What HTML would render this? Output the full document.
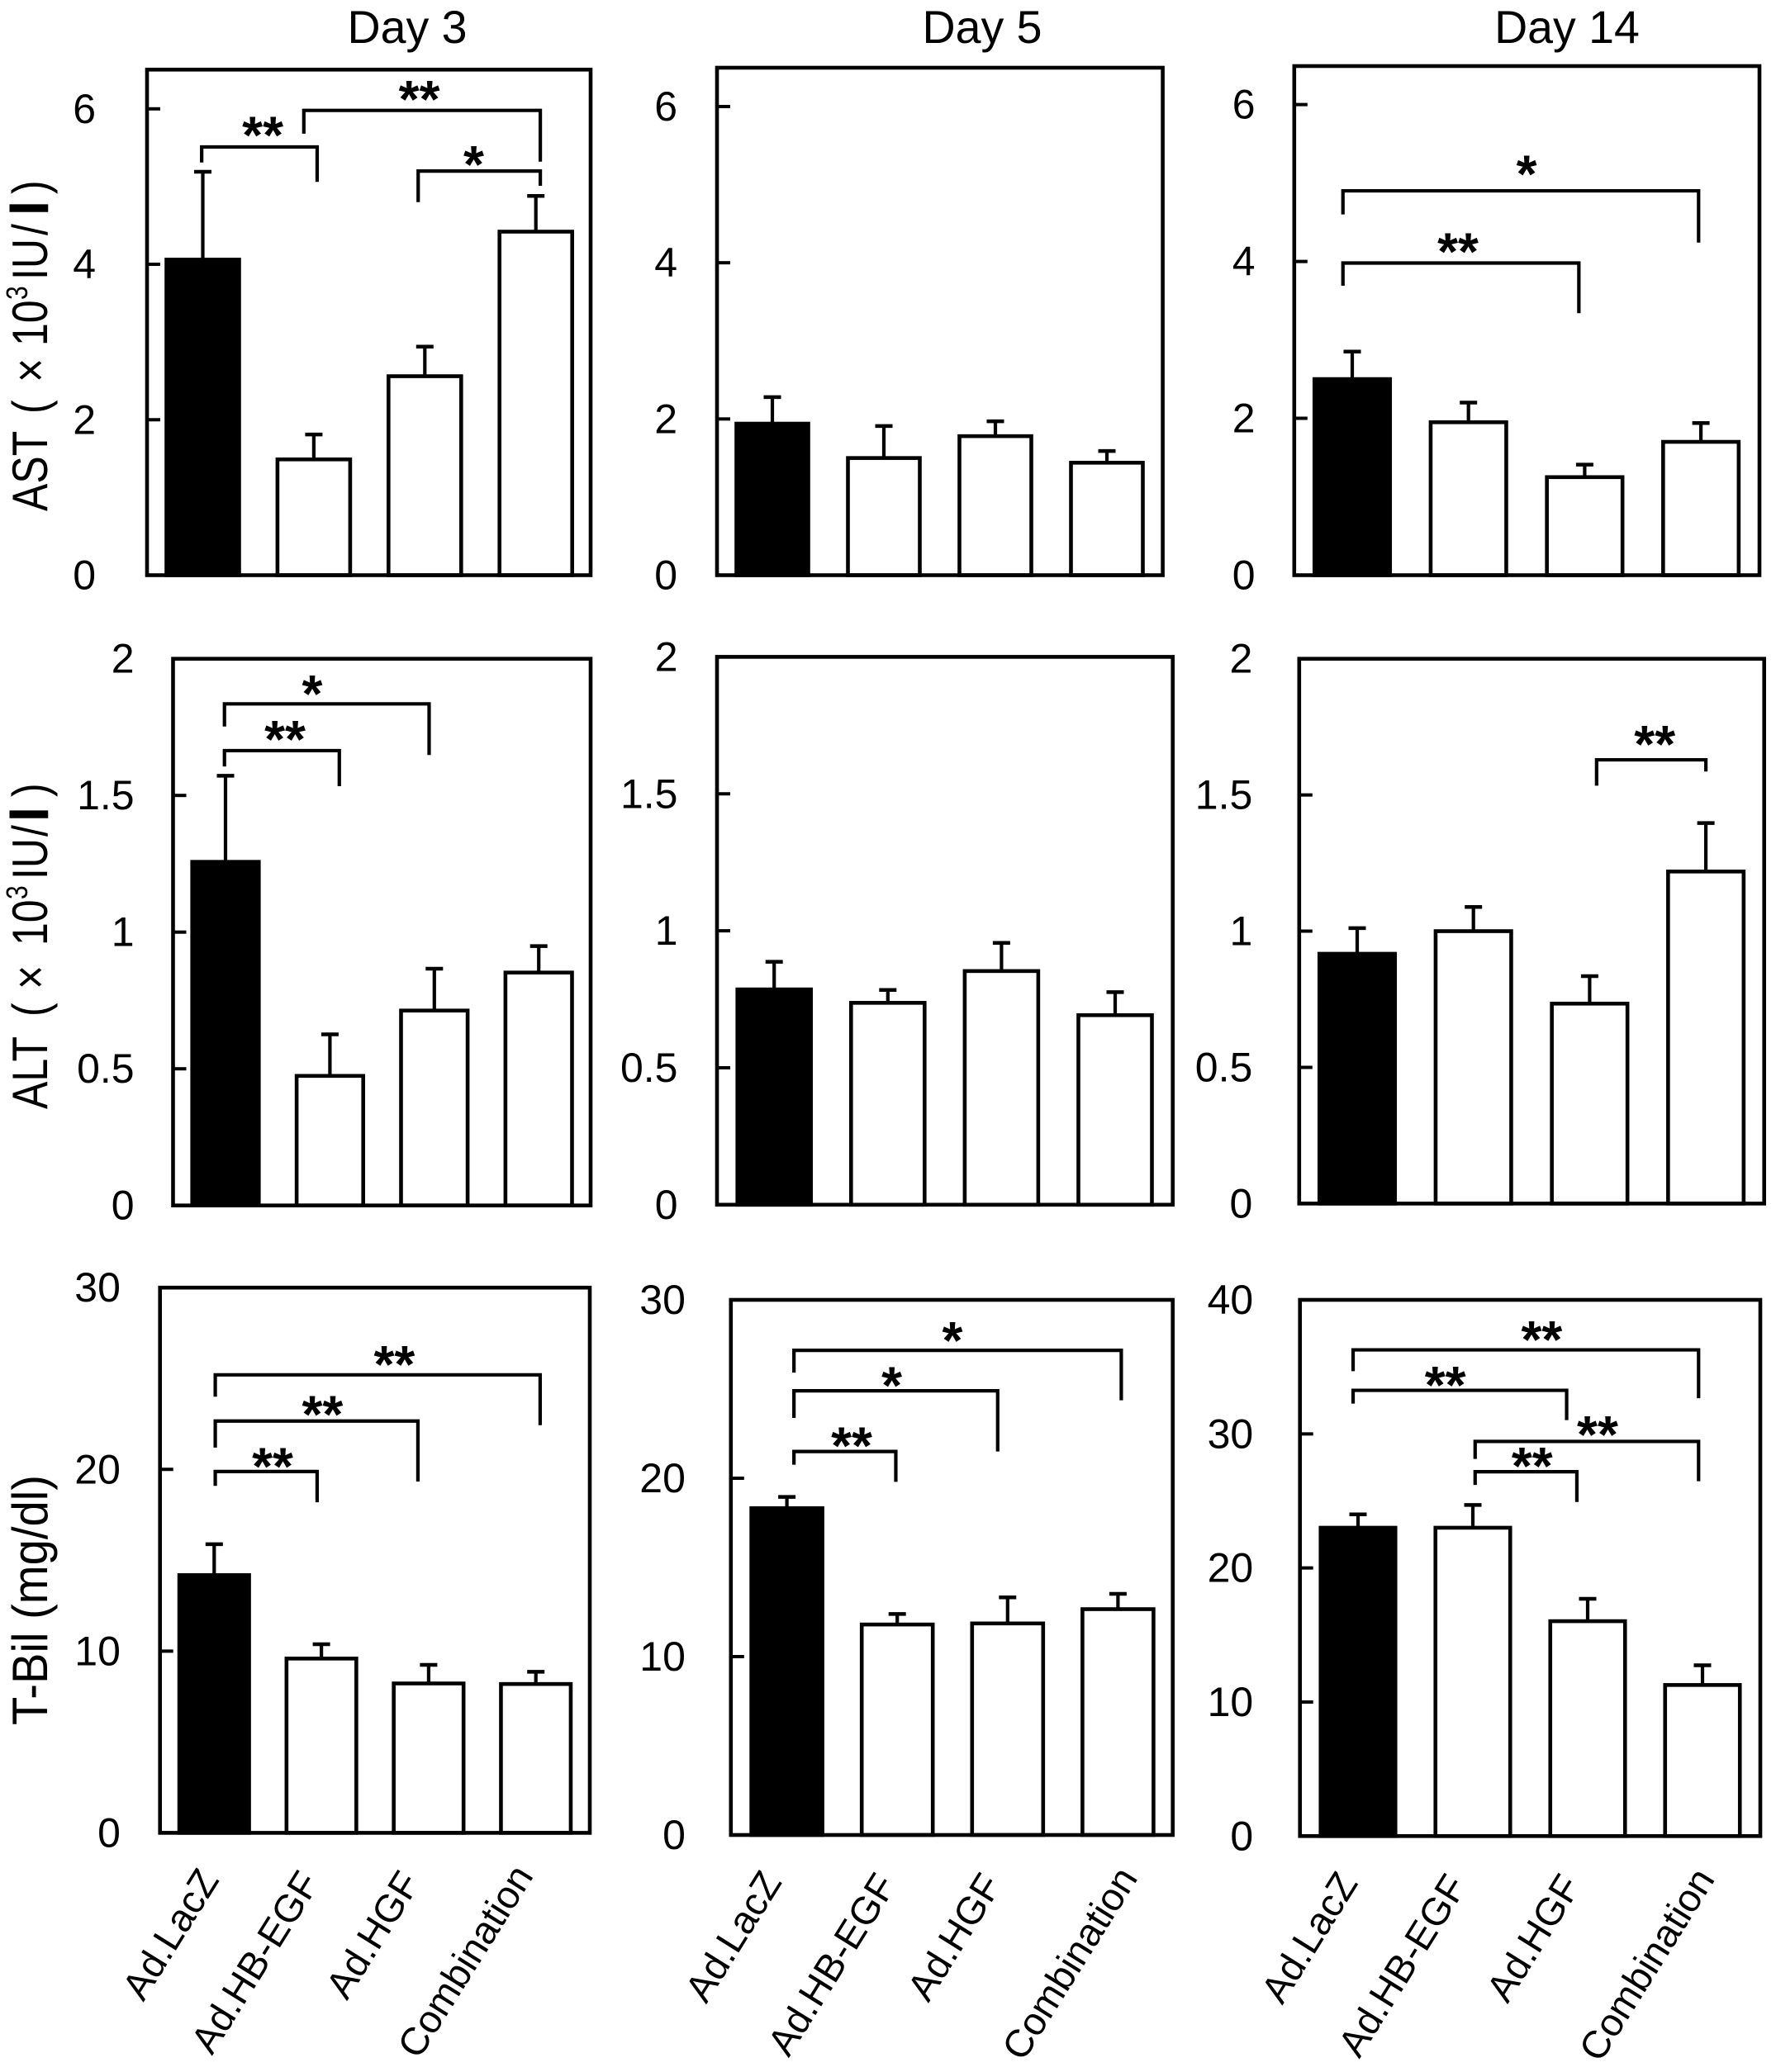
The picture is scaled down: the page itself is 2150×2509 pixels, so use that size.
<!DOCTYPE html>
<html lang="en">
<head>
<meta charset="utf-8">
<title>Liver function by treatment group</title>
<style>
  html, body { margin: 0; padding: 0; background: #fff; }
  #chart { display: block; width: 2150px; height: 2509px; }
  text { font-family: "Liberation Sans", Arial, sans-serif; fill: #000; }
</style>
</head>
<body>
<svg id="chart" xmlns="http://www.w3.org/2000/svg" width="2150" height="2509" viewBox="0 0 2150 2509">
  <rect x="0" y="0" width="2150" height="2509" fill="#fff"/>
  <text x="493" y="52" font-size="55.5" text-anchor="middle">Day 3</text>
  <text x="1189" y="52" font-size="55.5" text-anchor="middle">Day 5</text>
  <text x="1897" y="52" font-size="55.5" text-anchor="middle">Day 14</text>
  <text transform="translate(57,619) rotate(-90) scale(1,1.2)" font-size="50"><tspan x="0">AST</tspan><tspan x="118">(</tspan><tspan x="156">×</tspan><tspan x="200">10</tspan><tspan x="256" font-size="30" dy="-20">3</tspan><tspan x="280" dy="20">IU</tspan><tspan x="334">/</tspan><tspan x="360" font-weight="bold" stroke="#000" stroke-width="2.5">l</tspan><tspan x="384">)</tspan></text>
  <text transform="translate(57,1343) rotate(-90) scale(1,1.2)" font-size="50"><tspan x="0">ALT</tspan><tspan x="112">(</tspan><tspan x="145">×</tspan><tspan x="198">10</tspan><tspan x="254" font-size="30" dy="-20">3</tspan><tspan x="278" dy="20">IU</tspan><tspan x="330">/</tspan><tspan x="350" font-weight="bold" stroke="#000" stroke-width="2.5">l</tspan><tspan x="378">)</tspan></text>
  <text transform="translate(57,2089) rotate(-90) scale(1,1.2)" font-size="50" textLength="303" lengthAdjust="spacingAndGlyphs">T-Bil (mg/dl)</text>
</svg>
<script>
// ---- shared categories and tick labels ----
const categories = ['Ad.LacZ', 'Ad.HB-EGF', 'Ad.HGF', 'Combination'];
const astTicks = [0, 2, 4, 6];
const altTicks = [0, 0.5, 1, 1.5, 2];
const bilTicks30 = [0, 10, 20, 30];
const bilTicks40 = [0, 10, 20, 30, 40];

// ---- series values: bar means and upper error-bar values ----
const astDay3Means = [4.06, 1.49, 2.56, 4.42];
const astDay3Upper = [5.19, 1.81, 2.94, 4.88];
const astDay5Means = [1.94, 1.50, 1.78, 1.44];
const astDay5Upper = [2.28, 1.91, 1.97, 1.59];
const astDay14Means = [2.50, 1.95, 1.25, 1.70];
const astDay14Upper = [2.85, 2.20, 1.41, 1.94];

const altDay3Means = [1.257, 0.474, 0.713, 0.852];
const altDay3Upper = [1.572, 0.626, 0.866, 0.949];
const altDay5Means = [0.786, 0.737, 0.853, 0.692];
const altDay5Upper = [0.887, 0.784, 0.956, 0.776];
const altDay14Means = [0.917, 1.0, 0.734, 1.219];
const altDay14Upper = [1.011, 1.089, 0.835, 1.397];

const bilDay3Means = [14.18, 9.59, 8.22, 8.19];
const bilDay3Upper = [15.88, 10.38, 9.24, 8.86];
const bilDay5Means = [18.32, 11.8, 11.86, 12.66];
const bilDay5Upper = [18.95, 12.39, 13.32, 13.52];
const bilDay14Means = [23.0, 23.0, 16.03, 11.27];
const bilDay14Upper = [24.0, 24.7, 17.7, 12.74];

// ---- significance brackets (category units / value units) ----
const astDay3Brackets = [
  { from: -0.01, to: 1.03, level: 5.51, fromEnd: 5.31, toEnd: 5.06, mark: '**', markAt: 0.54, markLevel: 5.74 },
  { from: 0.91, to: 3.04, level: 5.98, fromEnd: 5.68, toEnd: 5.32, mark: '**', markAt: 1.95, markLevel: 6.20 },
  { from: 1.94, to: 3.04, level: 5.20, fromEnd: 4.80, toEnd: 5.01, mark: '*', markAt: 2.44, markLevel: 5.36 }
];
const astDay14Brackets = [
  { from: -0.08, to: 2.98, level: 4.90, fromEnd: 4.60, toEnd: 4.24, mark: '*', markAt: 1.50, markLevel: 5.19 },
  { from: -0.08, to: 1.95, level: 3.98, fromEnd: 3.69, toEnd: 3.34, mark: '**', markAt: 0.91, markLevel: 4.20 }
];
const altDay3Brackets = [
  { from: -0.01, to: 1.95, level: 1.835, fromEnd: 1.752, toEnd: 1.648, mark: '*', markAt: 0.83, markLevel: 1.893 },
  { from: -0.01, to: 1.09, level: 1.664, fromEnd: 1.606, toEnd: 1.534, mark: '**', markAt: 0.57, markLevel: 1.727 }
];
const altDay14Brackets = [
  { from: 2.06, to: 3.0, level: 1.629, fromEnd: 1.534, toEnd: 1.586, mark: '**', markAt: 2.56, markLevel: 1.708 }
];
const bilDay3Brackets = [
  { from: 0.01, to: 3.04, level: 25.2, fromEnd: 24.0, toEnd: 22.43, mark: '**', markAt: 1.68, markLevel: 26.1 },
  { from: 0.01, to: 1.90, level: 22.66, fromEnd: 21.2, toEnd: 19.33, mark: '**', markAt: 1.01, markLevel: 23.36 },
  { from: 0.01, to: 0.96, level: 19.88, fromEnd: 19.09, toEnd: 18.19, mark: '**', markAt: 0.545, markLevel: 20.5 }
];
const bilDay5Brackets = [
  { from: 0.064, to: 3.03, level: 27.17, fromEnd: 25.92, toEnd: 24.37, mark: '*', markAt: 1.5, markLevel: 28.06 },
  { from: 0.064, to: 1.91, level: 24.9, fromEnd: 23.38, toEnd: 21.5, mark: '*', markAt: 0.95, markLevel: 25.53 },
  { from: 0.064, to: 0.987, level: 21.5, fromEnd: 20.76, toEnd: 19.8, mark: '**', markAt: 0.587, markLevel: 22.16 }
];
const bilDay14Brackets = [
  { from: -0.043, to: 2.966, level: 36.27, fromEnd: 34.68, toEnd: 32.66, mark: '**', markAt: 1.60, markLevel: 37.46 },
  { from: -0.043, to: 1.817, level: 33.25, fromEnd: 32.26, toEnd: 31.03, mark: '**', markAt: 0.76, markLevel: 34.09 },
  { from: 1.02, to: 2.966, level: 29.44, fromEnd: 28.13, toEnd: 26.47, mark: '**', markAt: 2.086, markLevel: 30.4 },
  { from: 1.02, to: 1.906, level: 27.18, fromEnd: 26.19, toEnd: 24.92, mark: '**', markAt: 1.516, markLevel: 28.06 }
];
const noBrackets = [];

// ---- panel layout, separate from data ----
const panels = [
  { name: 'panel-ast-day-3', left: 178, right: 715, top: 84.3, bottom: 696.5, axisTopPx: 131.8, cx0: 245.5, step: 134.4, barW: 92, labelRight: 116, ticks: astTicks, means: astDay3Means, upper: astDay3Upper, brackets: astDay3Brackets },
  { name: 'panel-ast-day-5', left: 868, right: 1407.6, top: 82, bottom: 696.5, axisTopPx: 129, cx0: 935, step: 135, barW: 91, labelRight: 820, ticks: astTicks, means: astDay5Means, upper: astDay5Upper, brackets: noBrackets },
  { name: 'panel-ast-day-14', left: 1566.8, right: 2130, top: 80, bottom: 696.5, axisTopPx: 126.6, cx0: 1637, step: 140.7, barW: 95.5, labelRight: 1519.5, ticks: astTicks, means: astDay14Means, upper: astDay14Upper, brackets: astDay14Brackets },
  { name: 'panel-alt-day-3', left: 209.5, right: 715, top: 797.7, bottom: 1459.7, axisTopPx: 797.7, cx0: 273, step: 126.4, barW: 84.6, labelRight: 162.6, ticks: altTicks, means: altDay3Means, upper: altDay3Upper, brackets: altDay3Brackets },
  { name: 'panel-alt-day-5', left: 868, right: 1419.7, top: 795.4, bottom: 1458.8, axisTopPx: 795.4, cx0: 937.2, step: 137.6, barW: 93, labelRight: 820.5, ticks: altTicks, means: altDay5Means, upper: altDay5Upper, brackets: noBrackets },
  { name: 'panel-alt-day-14', left: 1572.8, right: 2135.7, top: 797.7, bottom: 1457.4, axisTopPx: 797.7, cx0: 1643, step: 140.7, barW: 95.5, labelRight: 1516.3, ticks: altTicks, means: altDay14Means, upper: altDay14Upper, brackets: altDay14Brackets },
  { name: 'panel-t-bil-day-3', left: 193.7, right: 714, top: 1559.2, bottom: 2219.4, axisTopPx: 1559.2, cx0: 259.3, step: 129.8, barW: 88.5, labelRight: 145.9, ticks: bilTicks30, means: bilDay3Means, upper: bilDay3Upper, brackets: bilDay3Brackets, labelAnchors: [7, -1, -9, -2] },
  { name: 'panel-t-bil-day-5', left: 884.8, right: 1419.7, top: 1574, bottom: 2222, axisTopPx: 1574, cx0: 952.6, step: 133.6, barW: 90, labelRight: 829.9, ticks: bilTicks30, means: bilDay5Means, upper: bilDay5Upper, brackets: bilDay5Brackets, labelAnchors: [-5, 0, -6, 25] },
  { name: 'panel-t-bil-day-14', left: 1573.7, right: 2131, top: 1574, bottom: 2223.3, axisTopPx: 1574, cx0: 1644, step: 139, barW: 94.5, labelRight: 1517.2, ticks: bilTicks40, means: bilDay14Means, upper: bilDay14Upper, brackets: bilDay14Brackets, labelAnchors: [1, -6, -7, 16] }
];
const xLabelBaselineOffsets = [57, 60, 60, 52];

const svg = document.getElementById('chart');
const NS = 'http://www.w3.org/2000/svg';

function make(parent, tag, attrs) {
  const node = document.createElementNS(NS, tag);
  for (const key in attrs) node.setAttribute(key, attrs[key]);
  parent.appendChild(node);
  return node;
}

function drawPanel(p) {
  const axisMax = p.ticks[p.ticks.length - 1];
  const yScale = v => p.bottom - v * (p.bottom - p.axisTopPx) / axisMax;
  const xScale = i => p.cx0 + i * p.step;

  const group = make(svg, 'g', {});
  
  

  p.means.forEach((value, i) => {
    const cx = xScale(i);
    const barTop = yScale(value);
    const capY = yScale(p.upper[i]);

    const stem = make(group, 'line', { x1: cx, x2: cx, y1: capY, y2: barTop, stroke: '#000', 'stroke-width': 4.2 });
    
    

    const cap = make(group, 'line', { x1: cx - 10.5, x2: cx + 10.5, y1: capY, y2: capY, stroke: '#000', 'stroke-width': 4.5 });
    
    

    const bar = make(group, 'rect', {
      x: cx - p.barW / 2 + 2, y: barTop, width: p.barW - 4, height: p.bottom - barTop,
      fill: i === 0 ? '#000' : '#fff', stroke: '#000', 'stroke-width': 4.6
    });
    
    
  });

  const frame = make(group, 'rect', {
    x: p.left, y: p.top, width: p.right - p.left, height: p.bottom - p.top,
    fill: 'none', stroke: '#000', 'stroke-width': 4.6
  });
  
  

  p.ticks.forEach(value => {
    const ty = yScale(value);
    const mark = make(group, 'line', { x1: p.left, x2: p.left + 16, y1: ty, y2: ty, stroke: '#000', 'stroke-width': 4 });
    
    

    const label = make(group, 'text', { x: p.labelRight, y: ty + 17, 'font-size': 50, 'text-anchor': 'end' });
    
    
    label.textContent = String(value);
  });

  p.brackets.forEach(b => {
    const x1 = xScale(b.from);
    const x2 = xScale(b.to);
    const line = make(group, 'path', {
      d: 'M' + x1 + ' ' + yScale(b.fromEnd) + ' V' + yScale(b.level) + ' H' + x2 + ' V' + yScale(b.toEnd),
      fill: 'none', stroke: '#000', 'stroke-width': 4.2
    });
    
    

    const stars = make(group, 'text', {
      x: xScale(b.markAt), y: yScale(b.markLevel) + 29,
      'font-size': 64, 'font-weight': 'bold', 'text-anchor': 'middle'
    });
    
    
    stars.textContent = b.mark;
  });

  if (p.labelAnchors) {
    categories.forEach((name, i) => {
      const ax = xScale(i) + p.labelAnchors[i];
      const ay = p.bottom + xLabelBaselineOffsets[i];
      const label = make(group, 'text', {
        transform: 'translate(' + ax + ',' + ay + ') rotate(-58)',
        'font-size': 47, 'text-anchor': 'end'
      });
      
      
      label.textContent = name;
    });
  }
}

panels.forEach(drawPanel);
</script>
</body>
</html>
